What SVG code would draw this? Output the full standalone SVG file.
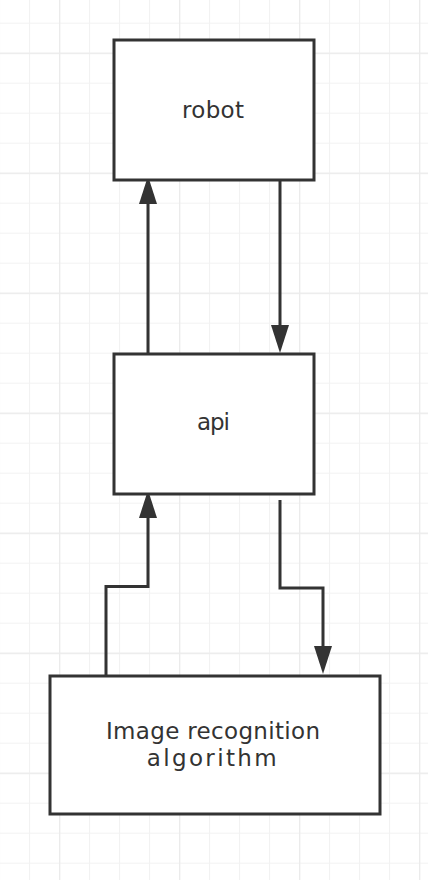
<svg xmlns="http://www.w3.org/2000/svg" width="428" height="880" viewBox="0 0 428 880">
  <defs>
    <pattern id="grid" x="29" y="22.7" width="30" height="30" patternUnits="userSpaceOnUse">
      <path d="M0.5,0 V30 M0,0.5 H30" stroke="#f2f2f2" stroke-width="1.2" fill="none"/>
    </pattern>
    <pattern id="gridMajor" x="59" y="52.7" width="120" height="120" patternUnits="userSpaceOnUse">
      <path d="M0.5,0 V120 M0,0.5 H120" stroke="#ebebeb" stroke-width="1.6" fill="none"/>
    </pattern>
    <marker id="arrow" markerUnits="userSpaceOnUse" markerWidth="30" markerHeight="20" refX="0" refY="9" orient="auto" viewBox="0 0 30 20">
      <path d="M0,0 L28,9 L0,18 Z" fill="#333"/>
    </marker>
  </defs>
  <style>
    .box { fill: #ffffff; stroke: #333333; stroke-width: 3; }
    .conn { fill: none; stroke: #333333; stroke-width: 3; marker-end: url(#arrow); }
    .lbl { font-family: "DejaVu Sans", "Noto Sans", sans-serif; font-size: 23px; fill: #333333; text-anchor: middle; }
  </style>
  <rect width="428" height="880" fill="#ffffff"/>
  <rect width="428" height="880" fill="url(#grid)"/>
  <rect width="428" height="880" fill="url(#gridMajor)"/>

  <g id="connectors">
    <path class="conn" d="M148,354 L148,204"/>
    <path class="conn" d="M280,180 L280,325"/>
    <path class="conn" d="M106,676 L106,586.5 L148,586.5 L148,518"/>
    <path class="conn" d="M280,500 L280,588 L323,588 L323,646"/>
  </g>

  <g id="node-robot">
    <rect class="box" x="114" y="40" width="200" height="140"/>
    <text class="lbl" x="213" y="118" textLength="62" lengthAdjust="spacing">robot</text>
  </g>
  <g id="node-api">
    <rect class="box" x="114" y="354" width="200" height="140"/>
    <text class="lbl" x="213.5" y="430" textLength="33" lengthAdjust="spacing">api</text>
  </g>
  <g id="node-image">
    <rect class="box" x="50" y="676" width="330" height="138"/>
    <text class="lbl" x="213" y="739" textLength="214" lengthAdjust="spacing">Image recognition</text>
    <text class="lbl" x="211.7" y="766" textLength="130" lengthAdjust="spacing">algorithm</text>
  </g>
</svg>
